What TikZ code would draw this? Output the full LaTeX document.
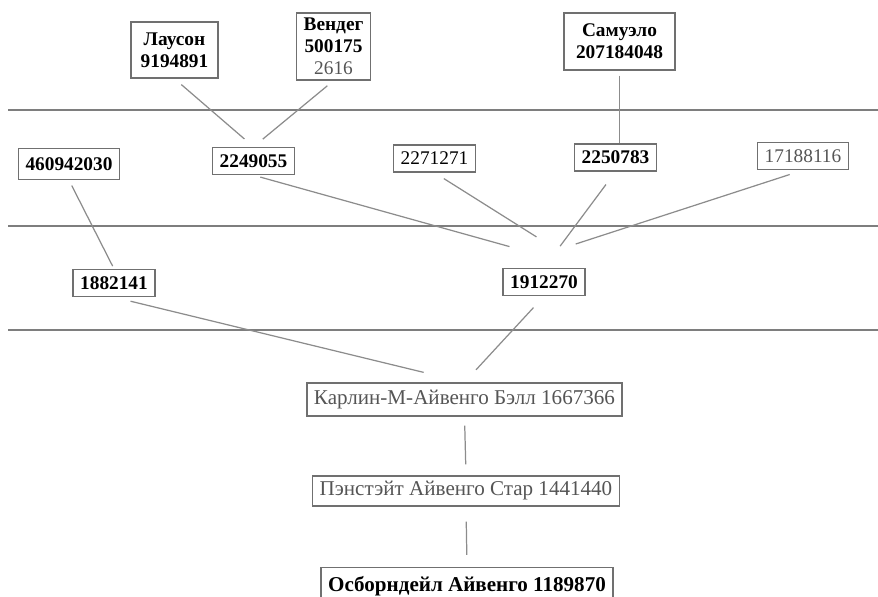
\documentclass[tikz,border=0pt]{standalone}
\usepackage{fontspec}
\setmainfont{Liberation Serif}
\definecolor{boxgray}{HTML}{707070}
\definecolor{linegray}{HTML}{8C8C8C}
\definecolor{rulegray}{HTML}{7E7E7E}
\definecolor{textgray}{HTML}{555555}
\tikzset{pedbox/.style={draw=boxgray, line width=0.8pt, fill=white, inner xsep=4pt, inner ysep=3pt, minimum height=0.54cm, align=center, font=\fontsize{11}{12.5}\selectfont\bfseries}}
\newcommand{\pednode}[4][] {\node at (#2) (#3) [pedbox, #1] {#4};}
\newcommand{\pedline}[3][] {\draw [linegray, line width=0.7pt, #1] (#2) -- (#3);}
\newcommand{\tableline}[1] {\draw [rulegray, line width=1.1pt] (8,#1) -- (878,#1);}

\begin{document}
\begin{tikzpicture}[x=0.02cm, y=-0.02cm]
\useasboundingbox (0,0) rectangle (878,597);
\tableline{110}
\tableline{226}
\tableline{330}

% top row
\pednode[minimum width=1.74cm, minimum height=1.12cm] {174.5,50} {lauson} {Лаусон\\9194891}
\pednode[minimum width=1.34cm, minimum height=1.34cm, inner ysep=1pt] {333.5,46.5} {vendet} {Вендег\\500175\\{\mdseries\color{textgray}2616}}
\pednode[minimum width=2.22cm, minimum height=1.14cm] {619.5,41.5} {samuelo} {Самуэло\\207184048}

% second row
\pednode[minimum height=0.62cm] {69,164} {n460942030} {460942030}
\pednode {253.5,161} {n2249055} {2249055}
\pednode[font=\fontsize{11}{12.5}\selectfont] {434.5,158.5} {n2271271} {2271271}
\pednode {615.5,157.5} {n2250783} {2250783}
\pednode[font=\fontsize{11}{12.5}\selectfont, text=textgray] {803,156} {n17188116} {17188116}

% third row
\pednode {114,283} {n1882141} {1882141}
\pednode {544,282} {n1912270} {1912270}

% bottom line
\pednode[minimum width=6.22cm, minimum height=0.66cm, font=\fontsize{12}{14}\selectfont, text=textgray] {464.5,399.5} {karlin} {Карлин-М-Айвенго Бэлл 1667366}
\pednode[minimum width=5.9cm, minimum height=0.6cm, font=\fontsize{12}{14}\selectfont, text=textgray] {466,491} {penstate} {Пэнстэйт Айвенго Стар 1441440}
\pednode[minimum width=5.7cm, minimum height=0.74cm, font=\fontsize{12}{14}\selectfont\bfseries] {467,586} {osborn} {Осборндейл Айвенго 1189870}

\pedline[shorten <=0.18cm, shorten >=0.24cm] {lauson.south} {n2249055.north}
\pedline[shorten <=0.16cm, shorten >=0.24cm] {vendet.south} {n2249055.north}
\pedline[shorten <=0.1cm] {samuelo.south} {samuelo.south |- n2250783.north}
\pedline[shorten <=0.12cm, shorten >=0.06cm] {n460942030.south} {n1882141.north}
\pedline[shorten <=0.14cm, shorten >=1.58cm] {n2249055.south} {n1912270.north east}
\pedline[shorten <=0.22cm, shorten >=1.16cm] {n2271271.south} {n1912270.north east}
\pedline[shorten <=0.32cm, shorten >=0.54cm] {n2250783.south} {n1912270.north}
\pedline[shorten <=0.28cm, shorten >=1.54cm] {n17188116.south} {n1912270.north west}
\pedline[shorten <=0.34cm, shorten >=0.84cm] {n1882141.south} {karlin.north}
\pedline[shorten <=0.31cm, shorten >=0.34cm] {n1912270.south} {karlin.north}
\pedline[shorten <=0.18cm, shorten >=0.22cm] {karlin.south} {penstate.north}
\pedline[shorten <=0.3cm, shorten >=0.24cm] {penstate.south} {osborn.north}
\end{tikzpicture}
\end{document}
